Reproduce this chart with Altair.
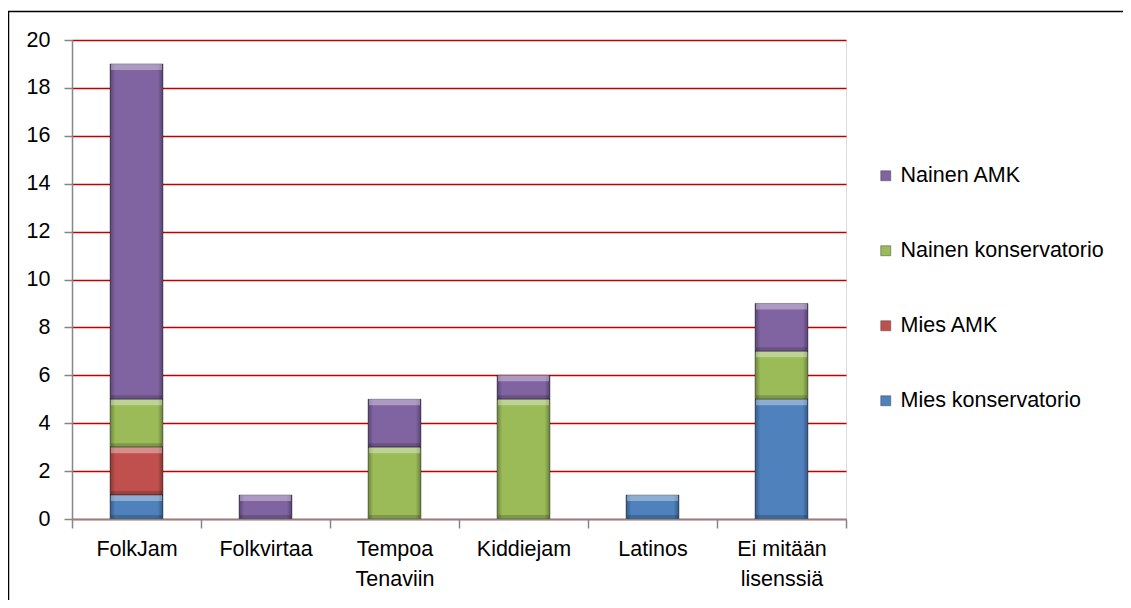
import altair as alt
import pandas as pd

categories = ["FolkJam", "Folkvirtaa", "Tempoa|Tenaviin", "Kiddiejam", "Latinos", "Ei mitään|lisenssiä"]
series = ["Mies konservatorio", "Mies AMK", "Nainen konservatorio", "Nainen AMK"]
mies_konservatorio = [1, 0, 0, 0, 1, 5]
mies_amk = [2, 0, 0, 0, 0, 0]
nainen_konservatorio = [2, 0, 3, 5, 0, 2]
nainen_amk = [14, 1, 2, 1, 0, 2]
y_ticks = [0, 2, 4, 6, 8, 10, 12, 14, 16, 18, 20]

legend_order = ["Nainen AMK", "Nainen konservatorio", "Mies AMK", "Mies konservatorio"]
colors = {"Nainen AMK": "#8064A2", "Nainen konservatorio": "#9BBB59",
          "Mies AMK": "#C0504D", "Mies konservatorio": "#4F81BD"}

rows = []
for vals, s in zip([mies_konservatorio, mies_amk, nainen_konservatorio, nainen_amk], series):
    for c, v in zip(categories, vals):
        rows.append({"cat": c, "series": s, "value": v, "order": series.index(s)})
df = pd.DataFrame(rows)

FONT = "Liberation Sans"
FS = 21.5

base = alt.Chart(df).transform_filter("datum.value > 0").transform_stack(
    stack="value", groupby=["cat"], as_=["y0", "y1"], sort=[alt.SortField("order", "ascending")]
)

x_enc = alt.X("cat:N", sort=categories, title=None,
              scale=alt.Scale(paddingInner=0, paddingOuter=0),
              axis=alt.Axis(labelAngle=0, tickBand="extent", grid=False,
                            labelExpr="split(datum.label, '|')", labelLineHeight=30,
                            labelFontSize=FS, labelFont=FONT, labelColor="black",
                            labelPadding=10, tickSize=9, tickColor="#868686",
                            domainColor="#868686", domainWidth=1.5, tickWidth=1.5,
                            zindex=1))
y_scale = alt.Scale(domain=[0, 20], nice=False)
y_axis = alt.Axis(values=y_ticks, title=None, grid=True, gridColor="#C00000", gridWidth=1.5,
                  labelFontSize=FS, labelFont=FONT, labelColor="black", labelPadding=14,
                  tickSize=8, tickColor="#868686", domainColor="#868686",
                  domainWidth=1.5, tickWidth=1.5)

bars = base.mark_bar(size=53).encode(
    x=x_enc,
    y=alt.Y("y0:Q", scale=y_scale, axis=y_axis),
    y2="y1:Q",
    color=alt.Color("series:N",
                    scale=alt.Scale(domain=legend_order, range=[colors[s] for s in legend_order]),
                    legend=alt.Legend(title=None, orient="none", legendX=803, legendY=125,
                                      symbolType="square", symbolSize=100,
                                      symbolStrokeColor="#444444", symbolStrokeWidth=0.5,
                                      labelFontSize=FS, labelFont=FONT, labelColor="black",
                                      labelLimit=400, rowPadding=52, labelOffset=4, padding=0)),
)

shade = base.mark_bar(
    size=53,
    color=alt.Gradient(gradient="linear", x1=0, y1=0, x2=1, y2=0, stops=[
        alt.GradientStop(offset=0, color="rgba(0,0,0,0.30)"),
        alt.GradientStop(offset=0.1, color="rgba(0,0,0,0.0)"),
        alt.GradientStop(offset=0.9, color="rgba(0,0,0,0.0)"),
        alt.GradientStop(offset=1, color="rgba(0,0,0,0.32)"),
    ]),
    stroke="rgba(0,0,0,0.35)", strokeWidth=1,
).encode(x=alt.X("cat:N", sort=categories), y="y0:Q", y2="y1:Q")

top_hl = base.mark_tick(color="white", opacity=0.35, thickness=6, size=51, yOffset=3).encode(
    x=alt.X("cat:N", sort=categories), y="y1:Q")
bottom_dk = base.mark_tick(color="black", opacity=0.18, thickness=4, size=51, yOffset=-2).encode(
    x=alt.X("cat:N", sort=categories), y="y0:Q")

frame = alt.Chart(alt.Data(values=[{"a": 1}])).mark_rect(
    fill="transparent", stroke="black", strokeWidth=1.5
).encode(x=alt.value(-63.5), x2=alt.value(1100), y=alt.value(-28.5), y2=alt.value(620))

chart = alt.layer(bars, shade, top_hl, bottom_dk, frame).properties(
    width=774, height=479,
    autosize=alt.AutoSizeParams(type="none"),
    padding={"left": 64, "top": 32, "right": 277, "bottom": 81},
).configure_view(stroke=None).configure(font=FONT)

chart.save("out.html", embed_options={"renderer": "svg", "actions": False})
